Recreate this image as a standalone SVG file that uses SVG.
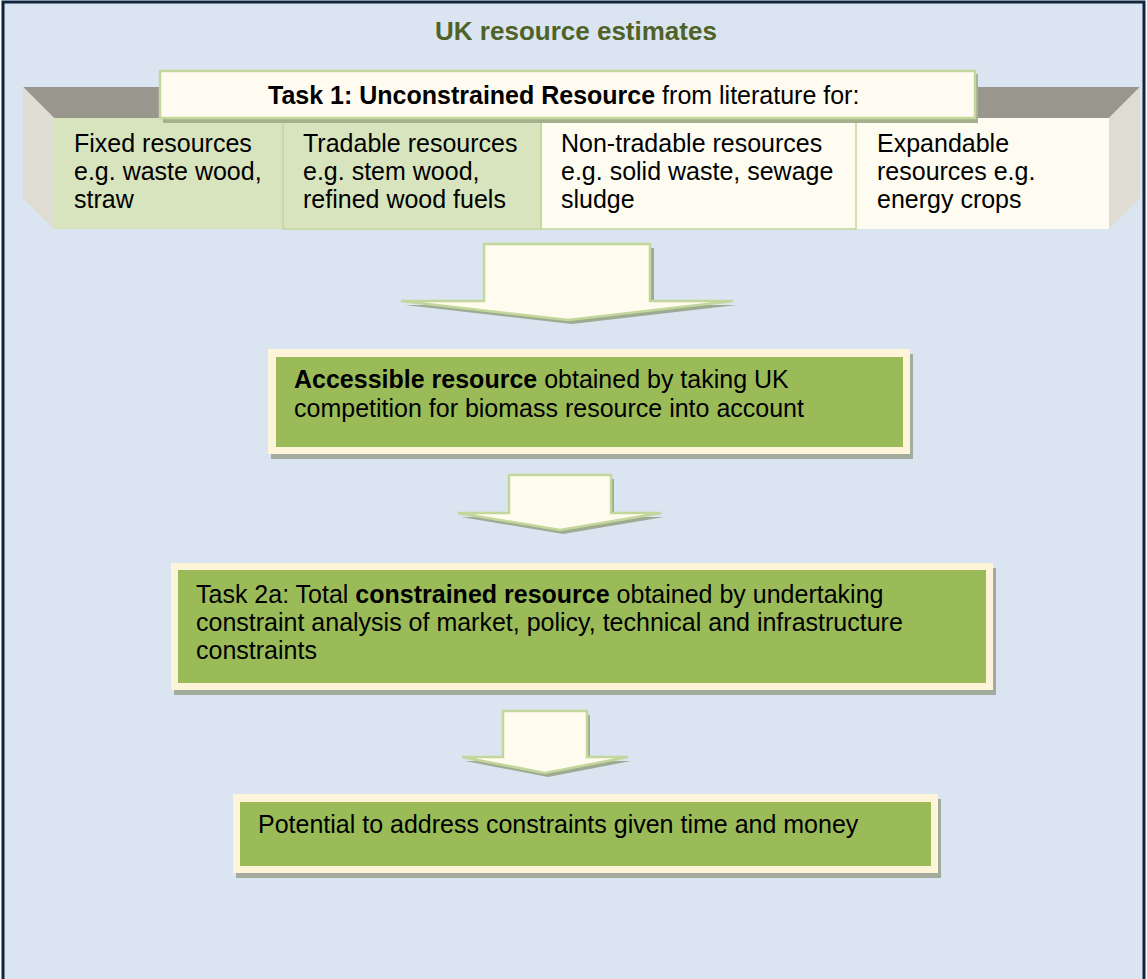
<svg xmlns="http://www.w3.org/2000/svg" width="1147" height="979" viewBox="0 0 1147 979">
  <style>
    text { font-family: "Liberation Sans", Arial, sans-serif; font-size: 25px; fill: #000; }
    .b { font-weight: bold; }
    .title { font-size: 26px; font-weight: bold; fill: #4F6228; }
    .cellG { fill: #D7E4BD; }
    .cellC { fill: #FEFBF0; }
    .cellLine { fill: none; stroke: #C3D69B; stroke-width: 1.5; }
    .arrow { fill: #FFFBEF; stroke: #C3D69B; stroke-width: 2.5; stroke-linejoin: miter; }
    .arrowShadow { fill: #9EAA92; }
    .frame { fill: #FEF4D9; }
    .inner { fill: #9BBB59; }
    .shadow { fill: #A2AB9C; }
  </style>

  <!-- panel background with border on top, left and right -->
  <rect x="3" y="2" width="1141" height="990" fill="#DBE5F1" stroke="#0F243E" stroke-width="3"/>

  <text class="title" x="576" y="40" text-anchor="middle">UK resource estimates</text>

  <!-- Task 1: 3D bar of resource categories -->
  <g id="task1-bar">
    <polygon points="23,87 1140,87 1109,118 54,118" fill="#99968D"/>
    <polygon points="23,87 54,118 54,229 23,198" fill="#DFDCD2"/>
    <polygon points="1140,87 1109,118 1109,229 1140,198" fill="#DFDCD2"/>
    <rect class="cellG" x="54" y="118" width="229" height="111"/>
    <rect class="cellG" x="283" y="118" width="258" height="111"/>
    <rect class="cellC" x="541" y="118" width="315" height="111"/>
    <rect class="cellC" x="856" y="118" width="253" height="111"/>
    <rect class="cellLine" x="283" y="118" width="258" height="111"/>
    <rect class="cellLine" x="541" y="118" width="315" height="111"/>
  </g>

  <g id="cell-fixed">
    <text x="74" y="152">Fixed resources</text>
    <text x="74" y="180">e.g. waste wood,</text>
    <text x="74" y="208">straw</text>
  </g>
  <g id="cell-tradable">
    <text x="303" y="152">Tradable resources</text>
    <text x="303" y="180">e.g. stem wood,</text>
    <text x="303" y="208">refined wood fuels</text>
  </g>
  <g id="cell-nontradable">
    <text x="561" y="152">Non-tradable resources</text>
    <text x="561" y="180">e.g. solid waste, sewage</text>
    <text x="561" y="208">sludge</text>
  </g>
  <g id="cell-expandable">
    <text x="877" y="152">Expandable</text>
    <text x="877" y="180">resources e.g.</text>
    <text x="877" y="208">energy crops</text>
  </g>

  <g id="task1-header">
    <rect x="163" y="74" width="815" height="49" fill="#A3B08C"/>
    <rect x="160" y="71" width="815" height="47" fill="#FFFBF0" stroke="#C3D69B" stroke-width="2.5"/>
    <text x="268" y="104"><tspan class="b">Task 1: Unconstrained Resource</tspan> from literature for:</text>
  </g>

  <!-- flow arrows between stages -->
  <g id="connectors">
    <polygon class="arrowShadow" points="488,248 654,248 654,305 737,305 572,324 405,305 488,305"/>
    <polygon class="arrow" points="484,244 650,244 650,301 733,301 568,320 401,301 484,301"/>
    <polygon class="arrowShadow" points="512,479 614,479 614,517 664,517 563,534 461,517 512,517"/>
    <polygon class="arrow" points="509,475 611,475 611,513 661,513 560,530 458,513 509,513"/>
    <polygon class="arrowShadow" points="506,715 590,715 590,761 631,761 548,777 465,761 506,761"/>
    <polygon class="arrow" points="503,711 587,711 587,757 628,757 545,773 462,757 503,757"/>
  </g>

  <g id="accessible">
    <rect class="shadow" x="271" y="354" width="642" height="105"/>
    <rect class="frame" x="268" y="349" width="642" height="105"/>
    <rect class="inner" x="276" y="357" width="627" height="90"/>
    <text x="294" y="388"><tspan class="b">Accessible resource</tspan> obtained by taking UK</text>
    <text x="294" y="417">competition for biomass resource into account</text>
  </g>

  <g id="constrained">
    <rect class="shadow" x="174" y="568" width="822" height="127"/>
    <rect class="frame" x="171" y="563" width="822" height="127"/>
    <rect class="inner" x="178" y="570" width="808" height="113"/>
    <text x="196" y="603">Task 2a: Total <tspan class="b">constrained resource</tspan> obtained by undertaking</text>
    <text x="196" y="631">constraint analysis of market, policy, technical and infrastructure</text>
    <text x="196" y="659">constraints</text>
  </g>

  <g id="potential">
    <rect class="shadow" x="236" y="799" width="705" height="79"/>
    <rect class="frame" x="233" y="794" width="705" height="79"/>
    <rect class="inner" x="240" y="802" width="691" height="64"/>
    <text x="258" y="833">Potential to address constraints given time and money</text>
  </g>
</svg>
